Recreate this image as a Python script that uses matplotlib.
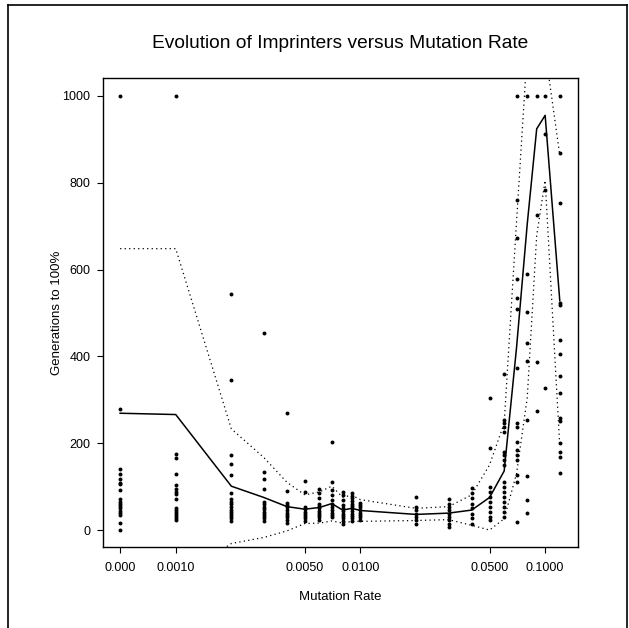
import numpy as np
import matplotlib
matplotlib.use("Agg")
import matplotlib.pyplot as plt
from matplotlib.lines import Line2D

plt.rcParams['font.family'] = ['Liberation Sans', 'DejaVu Sans']

# mutation rates tested (0 is drawn half a "step" left of 0.001)
rates = [0, 0.001, 0.002, 0.003, 0.004, 0.005, 0.006, 0.007, 0.008, 0.009,
         0.01, 0.02, 0.03, 0.04, 0.05, 0.06, 0.07, 0.08, 0.09, 0.1, 0.12]

# mean generations and spread (dotted band = mean +/- sd)
mean_gens = [269, 266, 101, 75, 54, 48, 52, 61, 46, 50,
             45, 36, 39, 46, 75, 136, 420, 705, 924, 955, 528]
sd_gens = [379, 382, 132, 92, 56, 33, 36, 40, 30, 30,
           25, 14, 15, 35, 75, 110, 290, 400, 245, 150, 335]

# individual runs per rate (1000 = never got to 100%)
runs = [
    [1000, 278, 140, 128, 117, 109, 105, 92, 71, 65, 61, 55, 50, 44, 40, 35, 17, 0],
    [1000, 175, 165, 129, 104, 94, 88, 83, 71, 50, 46, 42, 37, 32, 27, 23],
    [544, 346, 173, 152, 127, 85, 71, 65, 60, 54, 46, 42, 37, 32, 27, 21],
    [453, 133, 117, 94, 65, 60, 54, 48, 42, 37, 32, 27, 21],
    [270, 91, 63, 58, 52, 46, 40, 35, 29, 23, 17],
    [114, 87, 54, 48, 42, 37, 32, 27, 21],
    [94, 85, 73, 61, 55, 50, 44, 40, 35, 29, 23],
    [202, 111, 92, 81, 69, 60, 54, 46, 40, 35, 29],
    [88, 81, 69, 58, 50, 44, 38, 32, 27, 21, 15],
    [85, 78, 73, 67, 61, 55, 50, 44, 38, 32, 27, 21],
    [63, 58, 52, 46, 40, 35, 29, 23],
    [75, 54, 46, 38, 31, 23, 15],
    [71, 61, 54, 46, 38, 31, 23, 15, 8],
    [96, 85, 73, 61, 50, 38, 27, 15],
    [303, 188, 100, 88, 77, 65, 54, 42, 31, 23],
    [359, 253, 246, 238, 226, 180, 173, 161, 150, 111, 100, 88, 77, 65, 54, 42, 31],
    [1000, 760, 672, 578, 535, 508, 373, 246, 238, 203, 184, 173, 161, 127, 111, 19],
    [1000, 590, 501, 430, 390, 253, 124, 69, 40],
    [1000, 726, 388, 275],
    [1000, 912, 783, 326],
    [1000, 868, 754, 524, 518, 438, 405, 355, 316, 257, 250, 200, 180, 169, 131],
]

xticks = [0, 0.001, 0.005, 0.01, 0.05, 0.1]
xtick_labels = ['0.000', '0.0010', '0.0050', '0.0100', '0.0500', '0.1000']
yticks = [0, 200, 400, 600, 800, 1000]

zero_at = 0.0005  # where rate 0 sits on the log axis


def fwd(x):
    x = np.asarray(x, dtype=float)
    return np.log10(np.where(x > 0, x, zero_at))


def inv(y):
    return 10.0 ** np.asarray(y, dtype=float)


fig = plt.figure(figsize=(6.29, 6.28), dpi=100)
ax = fig.add_axes([0.1638, 0.1290, 0.7552, 0.7468])
ax.set_xscale('function', functions=(fwd, inv))

# runs
px, py = [], []
for r, vals in zip(rates, runs):
    px += [r] * len(vals)
    py += vals
ax.scatter(px, py, s=8, color='black', linewidths=0, zorder=3)

# mean and band
mean_arr = np.array(mean_gens)
sd_arr = np.array(sd_gens)
ax.plot(rates, mean_arr, color='black', lw=1.1, zorder=2)
ax.plot(rates, mean_arr + sd_arr, color='black', lw=0.9, linestyle=(0, (1, 2.6)), zorder=2)
ax.plot(rates, mean_arr - sd_arr, color='black', lw=0.9, linestyle=(0, (1, 2.6)), zorder=2)

# set ticks before limits, set_xticks would widen the view to reach 0
ax.set_xticks(xticks)
ax.set_xticklabels(xtick_labels)
ax.set_yticks(yticks)
ax.set_xlim(0.000404, 0.1507)
ax.set_ylim(-39, 1041)
ax.minorticks_off()
ax.tick_params(direction='out', length=4, width=0.8, labelsize=9, pad=5)
ax.tick_params(axis='x', pad=7)
for s in ax.spines.values():
    s.set_linewidth(1.0)

ax.set_xlabel('Mutation Rate', fontsize=9.5, labelpad=12)
ax.set_ylabel('Generations to 100%', fontsize=9.5)
ax.yaxis.set_label_coords(-0.0845, 0.5)

fig.text(0.5405, 0.9315, 'Evolution of Imprinters versus Mutation Rate',
         ha='center', va='center', fontsize=13.8)

# page frame
for xs, ys in [([0.0135, 0.0135], [0.0, 0.992]),
               ([0.0135, 0.997], [0.992, 0.992]),
               ([0.997, 0.997], [0.992, 0.0])]:
    fig.add_artist(Line2D(xs, ys, color='black', lw=1.2))

fig.savefig('out.png', dpi=100)
